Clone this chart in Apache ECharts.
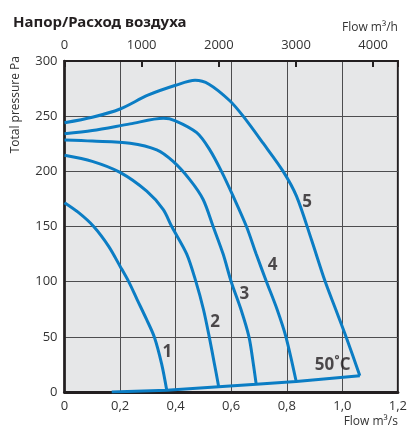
<!DOCTYPE html>
<html>
<head>
<meta charset="utf-8">
<script src="https://cdn.jsdelivr.net/npm/echarts@6/dist/echarts.min.js"></script>
<style>
    html, body { margin: 0; padding: 0; background: #fff; }
    #chart { width: 410px; height: 428px; }
</style>
</head>
<body>
<div id="chart"></div>
<script>
// fan curves, flow m3/s vs total pressure Pa
const curve1 = [[0, 171.5], [0.051, 162.5], [0.105, 150], [0.159, 132], [0.2, 114], [0.231, 100], [0.261, 84], [0.295, 66], [0.323, 50], [0.35, 25], [0.368, 1.5]]
const curve2 = [[0, 214.5], [0.1, 209], [0.2, 199], [0.296, 182], [0.355, 165.5], [0.386, 150], [0.44, 125], [0.473, 100], [0.5, 75], [0.521, 50], [0.54, 25], [0.555, 4.8]]
const curve3 = [[0, 228.5], [0.1, 227.5], [0.236, 225.5], [0.332, 219.5], [0.391, 209], [0.451, 192.5], [0.499, 174.5], [0.535, 150], [0.571, 125], [0.6, 100], [0.635, 75], [0.664, 50], [0.68, 25], [0.69, 7]]
const curve4 = [[0, 234], [0.1, 237], [0.236, 243], [0.356, 248], [0.397, 246], [0.476, 235], [0.523, 219.5], [0.565, 200], [0.607, 177.5], [0.655, 150], [0.69, 125], [0.727, 100], [0.765, 75], [0.797, 50], [0.834, 9.5]]
const curve5 = [[0, 244], [0.1, 249], [0.2, 256.5], [0.3, 269], [0.4, 278], [0.47, 282.5], [0.52, 279], [0.595, 264], [0.643, 250], [0.715, 225.5], [0.787, 200], [0.835, 177.5], [0.889, 138], [0.937, 101], [0.976, 75], [1.015, 49], [1.063, 14.7]]
const systemLine = [[0.17, 0], [0.368, 1.5], [0.555, 4.8], [0.69, 7], [0.834, 9.5], [1.063, 14.7]]

const curveNames = ['1', '2', '3', '4', '5', '50˚C']
const xTicks = [0, 0.2, 0.4, 0.6, 0.8, 1.0, 1.2]
const topTicks = [0, 1000, 2000, 3000, 4000]

const blue = '#0b7dc4'
const dark = '#231f20'
const labelFont = { color: '#333', fontSize: 13, fontFamily: 'Open Sans' }

// where the numbers 1..5 and 50˚C sit, in data units
const tagAt = [[0.37, 36], [0.542, 63], [0.647, 89], [0.749, 115], [0.873, 172], [0.965, 24]]

const chart = echarts.init(document.getElementById('chart'))

const curveSeries = [curve1, curve2, curve3, curve4, curve5].map((d, i) => ({
    name: curveNames[i],
    type: 'line',
    data: d,
    smooth: 0.3,
    symbol: 'none',
    lineStyle: { color: blue, width: 3 },
    z: 3
}))

const option = {
    animation: false,
    title: {
        text: 'Напор/Расход воздуха',
        left: 8,
        top: 10,
        textStyle: { color: dark, fontSize: 15, fontWeight: 'bold', fontFamily: 'Noto Sans' }
    },
    graphic: [{
        type: 'text',
        left: 10,
        top: 56,
        style: {
            text: 'Total pressure Pa',
            fill: '#333',
            fontSize: 12,
            fontFamily: 'Open Sans'
        },
        rotation: Math.PI / 2,
        originX: 0,
        originY: 0
    }],
    grid: {
        left: 64.5,
        right: 12,
        top: 61,
        bottom: 35,
        show: true,
        backgroundColor: '#e6e7e8',
        borderColor: dark,
        borderWidth: 2
    },
    xAxis: [
        {
            type: 'value',
            min: 0,
            max: 1.2,
            interval: 0.2,
            name: 'Flow m³/s',
            nameLocation: 'end',
            nameGap: 0,
            nameTextStyle: {
                align: 'right', verticalAlign: 'top', padding: [24, 0, 0, 0],
                color: '#333', fontSize: 12, fontFamily: 'Open Sans'
            },
            axisLine: { show: true, lineStyle: { color: dark, width: 3 } },
            axisTick: { show: false },
            axisLabel: {
                ...labelFont,
                margin: 8,
                formatter: v => xTicks.includes(+v.toFixed(1)) ? (v === 0 ? '0' : v.toFixed(1).replace('.', ',')) : ''
            },
            splitLine: { show: true, lineStyle: { color: '#4d4d4f', width: 1 } }
        },
        {
            type: 'value',
            position: 'top',
            min: 0,
            max: 4320,
            interval: 1000,
            name: 'Flow m³/h',
            nameLocation: 'end',
            nameGap: 0,
            nameTextStyle: {
                align: 'right', verticalAlign: 'bottom', padding: [0, 0, 27, 0],
                color: '#333', fontSize: 12, fontFamily: 'Open Sans'
            },
            axisLine: { show: true, lineStyle: { color: dark, width: 2 } },
            axisTick: { show: true, inside: true, length: 6, lineStyle: { color: dark, width: 2 } },
            axisLabel: {
                ...labelFont,
                margin: 9,
                formatter: v => topTicks.includes(v) ? String(v) : ''
            },
            splitLine: { show: false }
        }
    ],
    yAxis: {
        type: 'value',
        min: 0,
        max: 300,
        interval: 50,
        axisLine: { show: true, lineStyle: { color: dark, width: 2.5 } },
        axisTick: { show: false },
        axisLabel: { ...labelFont, margin: 7 },
        splitLine: { show: true, lineStyle: { color: '#4d4d4f', width: 1 } }
    },
    series: [
        ...curveSeries,
        {
            name: '50˚C',
            type: 'line',
            data: systemLine,
            symbol: 'none',
            lineStyle: { color: blue, width: 3 },
            z: 4
        },
        {
            type: 'scatter',
            symbolSize: 0,
            data: tagAt.map((p, i) => ({ value: p, name: curveNames[i] })),
            label: {
                show: true,
                position: 'inside',
                formatter: p => p.name,
                color: dark,
                fontSize: 17,
                fontWeight: 'bold',
                fontFamily: 'Open Sans'
            },
            z: 5
        }
    ]
}

chart.setOption(option)
</script>
</body>
</html>
